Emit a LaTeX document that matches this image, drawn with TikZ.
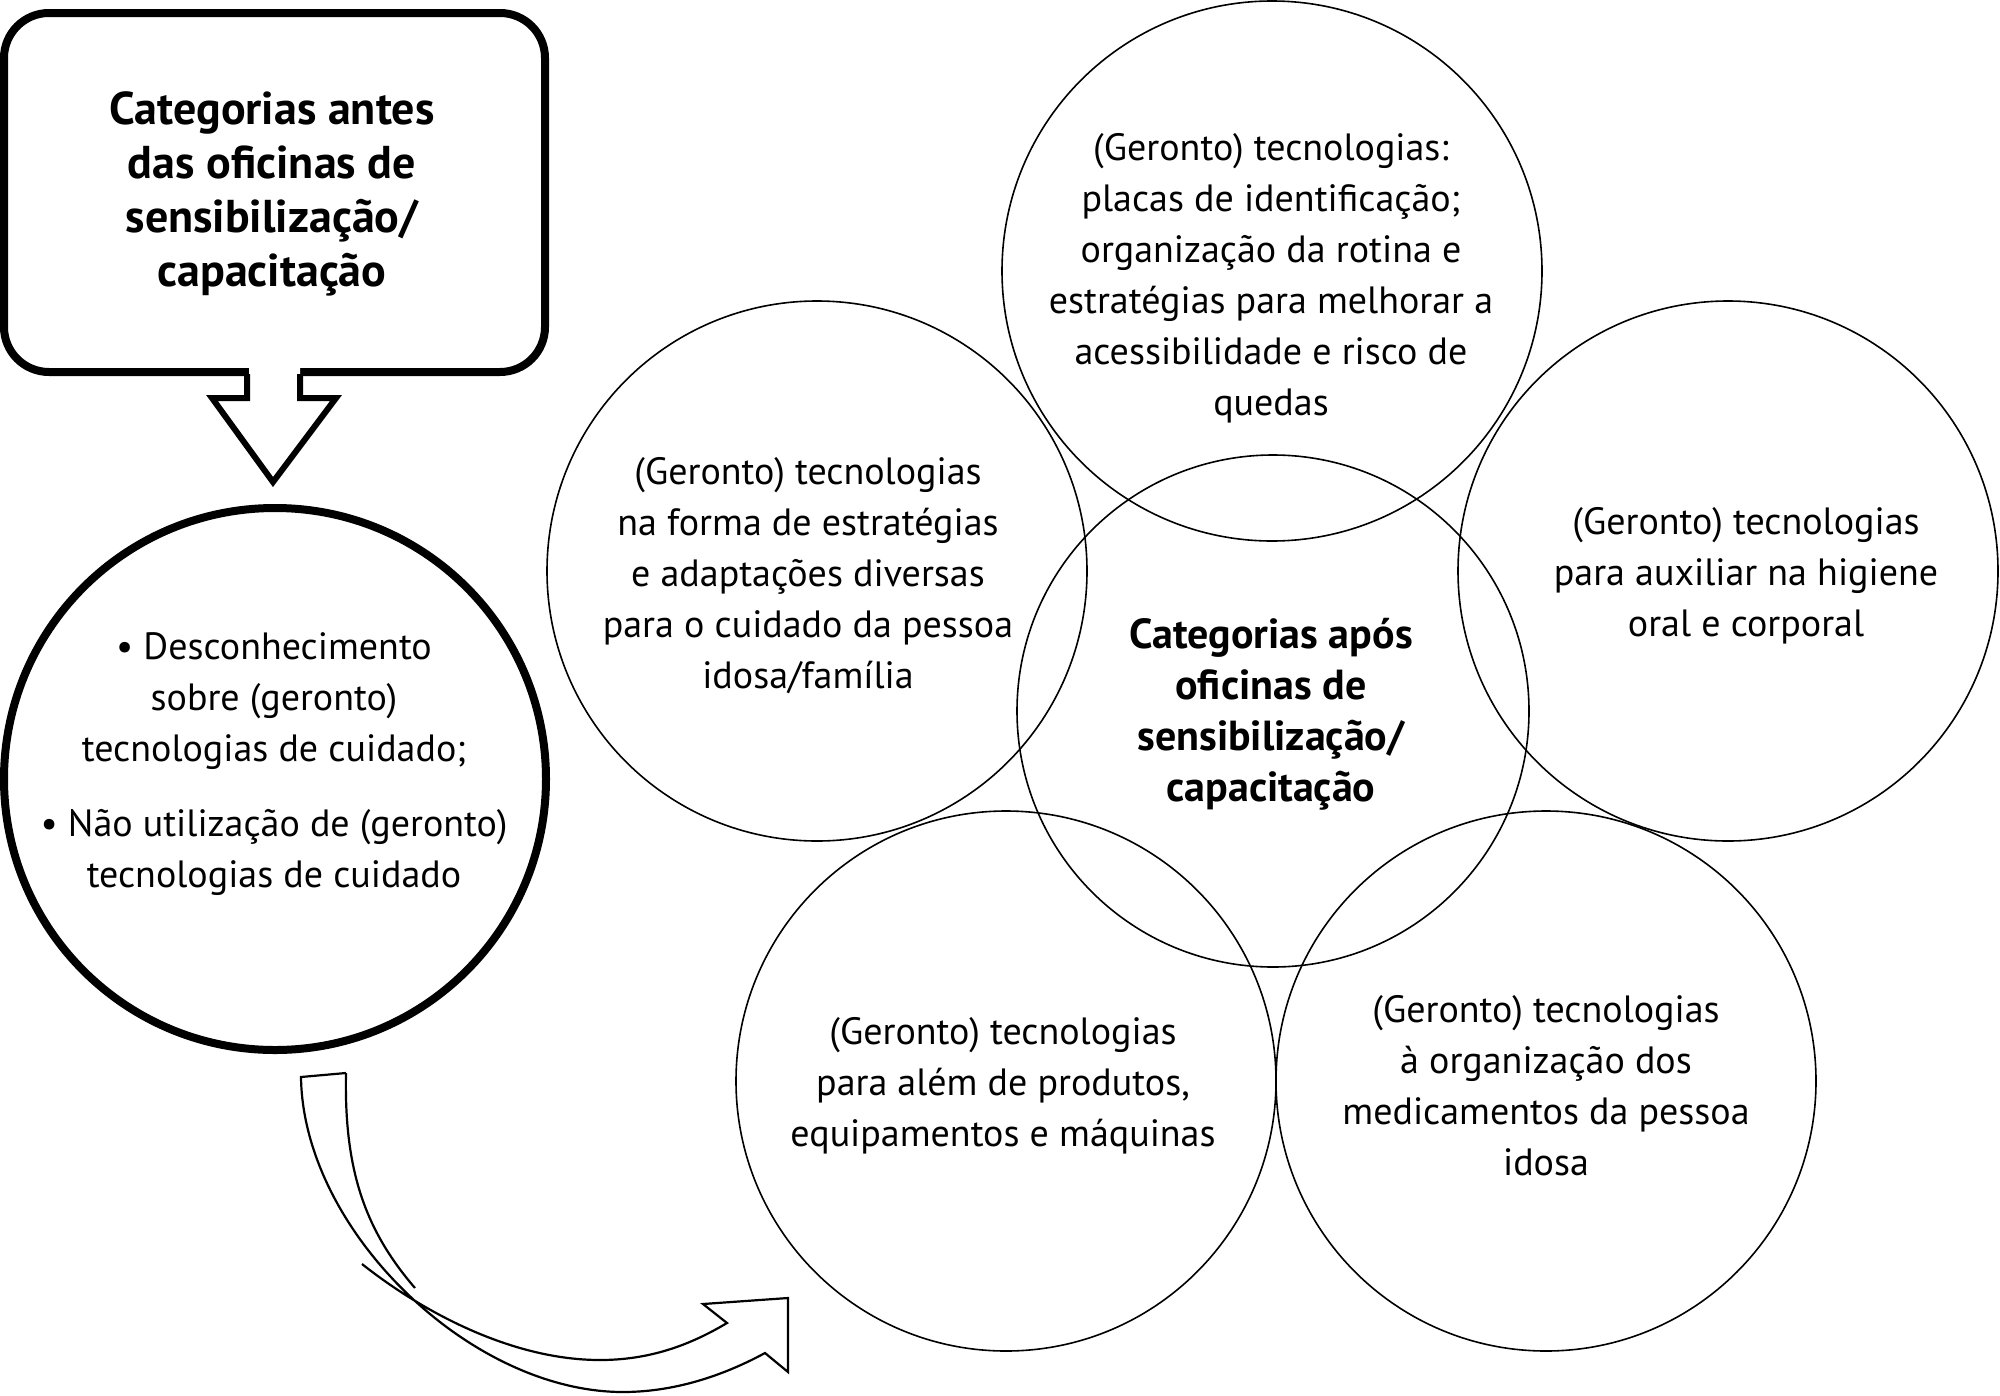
\documentclass[tikz,border=0pt]{standalone}
\usepackage{fontspec}
\setmainfont{PT Sans}
\begin{document}
\begin{tikzpicture}[x=1pt,y=-1pt,
  bub/.style={circle,draw,line width=1.6,minimum size=540,inner sep=0},
  reg/.style={align=center,font=\fontsize{38}{51}\selectfont,inner sep=0},
  bld/.style={align=center,font=\fontsize{42}{51}\selectfont\bfseries,inner sep=0}]
\useasboundingbox (0,0) rectangle (2000,1395);
% top box
\node[draw,rounded corners=45,line width=8,minimum width=541,minimum height=359,inner sep=0] (box) at (274.5,192.5) {};
\node[bld,font=\fontsize{46}{54}\selectfont\bfseries] (boxt) at (272,194) {Categorias antes\\das oficinas de\\sensibilização/\\capacitação};
\path[fill=white] (249,366) -- (249,398) -- (212,398) -- (273,482) -- (336,398) -- (300,398) -- (300,366) -- cycle;
\draw[line width=6,line join=miter] (247,374) -- (247,398) -- (212,398) -- (273,482) -- (336,398) -- (300,398) -- (300,374);
% left circle
\node[circle,draw,line width=8,minimum size=542,inner sep=0] (lc) at (275,779) {};
\node[reg] (lct) at (274,764) {• Desconhecimento\\sobre (geronto)\\tecnologias de cuidado;\\[24pt]• Não utilização de (geronto)\\tecnologias de cuidado};
% circles
\node[bub] (ctop) at (1272,271) {};
\node[bub] (cl) at (817,571) {};
\node[bub,minimum size=512] (cc) at (1273,711) {};
\node[bub] (cr) at (1728,571) {};
\node[bub] (cbl) at (1006,1081) {};
\node[bub] (cbr) at (1546,1081) {};
\node[reg] (ttop) at (1271,278) {(Geronto) tecnologias:\\placas de identificação;\\organização da rotina e\\estratégias para melhorar a\\acessibilidade e risco de\\quedas};
\node[reg] (tl) at (808,576) {(Geronto) tecnologias\\na forma de estratégias\\e adaptações diversas\\para o cuidado da pessoa\\idosa/família};
\node[reg] (tr) at (1746,576) {(Geronto) tecnologias\\para auxiliar na higiene\\oral e corporal};
\node[bld] (tc) at (1271,714) {Categorias após\\oficinas de\\sensibilização/\\capacitação};
\node[reg] (tbl) at (1003,1086) {(Geronto) tecnologias\\para além de produtos,\\equipamentos e máquinas};
\node[reg] (tbr) at (1546,1086) {(Geronto) tecnologias\\à organização dos\\medicamentos da pessoa\\idosa};
% curved arrow
\draw[line width=2.2,line join=miter,fill=white]
  (346,1073) -- (301,1077) .. controls (303,1230) and (470,1392) .. (623,1392)
  .. controls (680,1392) and (730,1372) .. (765,1353) -- (788,1372) -- (788,1298)
  -- (703,1304) -- (727,1323) .. controls (690,1345) and (650,1360) .. (600,1360)
  .. controls (510,1360) and (420,1310) .. (362,1264);
\draw[line width=2.2] (346,1073) .. controls (344,1170) and (365,1230) .. (415,1288);
\end{tikzpicture}
\end{document}
